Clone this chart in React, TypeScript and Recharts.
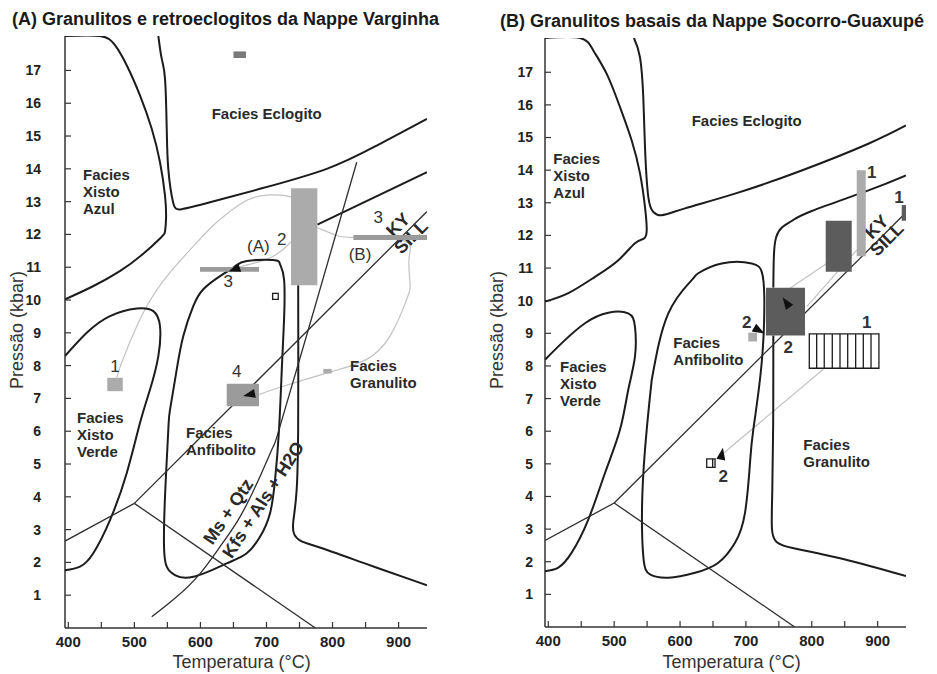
import React from 'react';
import {
  ComposedChart, Scatter, XAxis, YAxis, ReferenceArea, ReferenceDot, ReferenceLine,
} from 'recharts';

const FONT = '"Liberation Sans", Arial, Helvetica, sans-serif';
const INK = '#222';

const T_DOMAIN: [number, number] = [395, 943];
const P_DOMAIN: [number, number] = [0, 18.05];
const T_TICKS = [400, 450, 500, 550, 600, 650, 700, 750, 800, 850, 900];
const T_TOP_TICKS = [500, 600, 700, 800, 900];
const P_TICKS = [1, 2, 3, 4, 5, 6, 7, 8, 9, 10, 11, 12, 13, 14, 15, 16, 17];

const TITLE_A = '(A) Granulitos e retroeclogitos da Nappe Varginha';
const TITLE_B = '(B) Granulitos basais da Nappe Socorro-Guaxupé';
const X_TITLE = 'Temperatura (°C)';
const Y_TITLE = 'Pressão (kbar)';

// Al2SiO5 lines (same in both panels), [T °C, P kbar]
const andKy = [[395, 2.65], [500, 3.8]];
const kySil = [[500, 3.8], [943, 12.7]];
const andSil = [[500, 3.8], [774, 0]];

// ---------- panel A ----------
const aXistoAzul = [[395, 18.05], [448, 18.05], [470.7, 17.77], [488.4, 17.16], [508.5, 16.24], [526.3, 15.22], [538.8, 14.2], [546.4, 13.18], [548, 12.5], [546.5, 12.1], [540, 11.9], [513, 11.4], [478, 10.88], [437.4, 10.42], [395, 10.02]];
const aEclogito = [[536.3, 18.05], [541.4, 17.36], [546.4, 16.75], [549, 15.22], [551.4, 13.99], [558.5, 12.99], [571.7, 12.77], [614.5, 12.98], [690.2, 13.39], [791.2, 14.0], [866.9, 14.71], [943, 15.52]];
const aGranulitoLow = [[748, 10.45], [748.2, 8.2], [748.2, 6.05], [746.7, 4.01], [739, 3.15], [740.6, 2.83], [752, 2.62], [770.9, 2.53], [841.6, 2.02], [943, 1.3]];
const aGranulitoHigh = [[777, 12.3], [943, 13.9]];
const aXistoVerde = [[395, 8.29], [427.9, 9.0], [463.1, 9.51], [503.5, 9.74], [528.7, 9.66], [538.8, 9.2], [536.3, 8.29], [523.7, 7.27], [508.5, 6.25], [488.4, 4.72], [463.1, 3.29], [437.8, 2.28], [417.7, 1.87], [395, 1.76]];
const aAnfibolito = [[564.1, 7.88], [554, 6.66], [551.4, 6.05], [546.4, 4.01], [544.9, 2.48], [549, 1.87], [561.5, 1.61], [589.3, 1.56], [639.8, 1.97], [670.1, 2.28], [690.2, 2.78], [705.4, 3.5], [713, 4.52], [719, 6.05], [723.5, 8.03], [726.6, 9.41], [726.6, 10.63], [720.5, 11.09], [710.4, 11.22], [670.1, 11.19], [652.4, 11.03], [629.7, 10.73], [604.4, 10.33], [589.3, 9.82], [574.1, 8.9], [564.1, 7.88]];
const aMsQtz = [[526.3, 0.34], [564.1, 0.95], [599.4, 1.66], [629.7, 2.48], [659.9, 3.39], [690.2, 4.62], [710.4, 5.54], [719, 6.05], [763.4, 9.1], [836.6, 14.2]];
const aPathA = [[473.7, 7.64], [480.8, 8.09], [513.5, 9.61], [554, 10.84], [599.4, 11.86], [624.7, 12.37], [664.9, 12.98], [700.4, 13.2], [740.6, 13.13], [760.9, 12.77], [758.4, 12.37], [745.8, 11.96], [725.5, 11.55], [700.4, 11.24], [664.9, 11.04], [652.4, 10.94]];
const aPathB = [[776.1, 12.21], [800.7, 12.01], [831.5, 11.91], [906, 11.82], [916, 11.3], [917.3, 10.53], [912.3, 10.02], [887, 8.9], [851.7, 8.19], [801.2, 7.83], [725.5, 7.37], [688.7, 7.12]];

const aBoxes = [
  { t1: 650, t2: 669, p1: 17.38, p2: 17.58, tone: 'grey' },
  { t1: 459, t2: 482.4, p1: 7.22, p2: 7.63, tone: 'light' },
  { t1: 639.8, t2: 688.7, p1: 6.76, p2: 7.45, tone: 'mid' },
  { t1: 599.4, t2: 688.7, p1: 10.86, p2: 11.01, tone: 'mid' },
  { t1: 737.2, t2: 777, p1: 10.45, p2: 13.41, tone: 'light' },
  { t1: 831.5, t2: 943, p1: 11.83, p2: 11.98, tone: 'mid' },
  { t1: 786, t2: 798.7, p1: 7.76, p2: 7.9, tone: 'light' },
  { t1: 709.3, t2: 717.8, p1: 10.02, p2: 10.2, tone: 'open' },
];
const aFacies = [
  { t: 617.1, p: 15.68, lines: ['Facies Eclogito'] },
  { t: 422.3, p: 13.81, lines: ['Facies', 'Xisto', 'Azul'] },
  { t: 413.2, p: 6.4, lines: ['Facies', 'Xisto', 'Verde'] },
  { t: 578.2, p: 5.94, lines: ['Facies', 'Anfibolito'] },
  { t: 826.5, p: 8.0, lines: ['Facies', 'Granulito'] },
];
const aNumbers = [
  { t: 470.7, p: 7.98, text: '1' },
  { t: 654.9, p: 7.83, text: '4' },
  { t: 642.2, p: 10.58, text: '3' },
  { t: 723.1, p: 11.86, text: '2' },
  { t: 687.7, p: 11.65, text: '(A)' },
  { t: 869.3, p: 12.52, text: '3' },
  { t: 841.6, p: 11.4, text: '(B)' },
];
const aTilted = [
  { t: 642.2, p: 3.55, text: 'Ms + Qtz', angle: -56 },
  { t: 695.2, p: 3.91, text: 'Kfs + Als + H2O', angle: -57 },
  { t: 899.2, p: 12.29, text: 'KY', angle: -45 },
  { t: 918.8, p: 11.92, text: 'SILL', angle: -45 },
];
const aArrows = [
  { t: 652.4, p: 10.94, dir: 160 },
  { t: 675.1, p: 7.12, dir: 168 },
];

// ---------- panel B ----------
const bXistoAzul = [[395, 18.05], [448.1, 18.05], [468.3, 17.67], [488.7, 16.95], [508.9, 15.93], [526.6, 14.91], [539.2, 13.9], [546.8, 12.87], [549.4, 12.16], [545, 11.9], [531.6, 11.76], [506.3, 11.24], [470.9, 10.73], [430.4, 10.23], [395, 9.97]];
const bEclogito = [[530, 18.05], [539.2, 17.46], [544.2, 16.24], [546.8, 14.71], [551.8, 13.18], [559.4, 12.72], [572.2, 12.62], [607.5, 12.83], [683.4, 13.28], [784.7, 13.99], [885.8, 14.81], [943, 15.37]];
const bGranulitoLow = [[741.6, 8.93], [741.6, 6.04], [740.1, 4.01], [738.1, 2.89], [744.1, 2.58], [764.3, 2.43], [835.2, 2.17], [943, 1.56]];
const bGranulitoHigh = [[741.6, 10.4], [742.5, 11.4], [746, 11.95], [755, 12.25], [770, 12.45], [800, 12.75], [886, 13.38], [943, 13.84]];
const bXistoVerde = [[395, 8.19], [420.4, 8.7], [455.7, 9.31], [491.1, 9.63], [521.4, 9.61], [531.6, 9.2], [531.6, 8.29], [521.4, 7.27], [508.9, 6.05], [486.1, 4.72], [460.7, 3.29], [435.5, 2.28], [415.2, 1.82], [395, 1.71]];
const bAnfibolito = [[557, 7.57], [549.4, 6.05], [542.7, 4.01], [544.2, 2.17], [554.4, 1.61], [582.2, 1.51], [622.7, 1.66], [658.1, 1.97], [683.4, 2.58], [698.6, 3.5], [706.2, 5.03], [711.2, 6.05], [723.9, 8.09], [727.9, 10.12], [723.9, 10.89], [708.8, 11.14], [663.2, 11.14], [627.7, 10.84], [617.7, 10.63], [582.2, 9.61], [557, 7.57]];
const bPathLow = [[663.2, 5.28], [817.5, 7.9]];
const bPathMid = [[766.9, 10.38], [822.6, 11.14]];
const bPathHigh = [[792.3, 9.82], [868.2, 11.55]];

const bBoxes = [
  { t1: 730.5, t2: 789.7, p1: 8.93, p2: 10.4, tone: 'dark' },
  { t1: 821.1, t2: 860.6, p1: 10.89, p2: 12.45, tone: 'dark' },
  { t1: 868.2, t2: 881.9, p1: 11.36, p2: 14.0, tone: 'light' },
  { t1: 936.5, t2: 943, p1: 12.45, p2: 12.93, tone: 'dark' },
  { t1: 703.6, t2: 716.8, p1: 8.75, p2: 9.02, tone: 'light' },
  { t1: 640.5, t2: 653.1, p1: 4.89, p2: 5.15, tone: 'open' },
  { t1: 796.2, t2: 901.9, p1: 7.93, p2: 8.98, tone: 'open' },
];
const bStripes = [
  { t: 807.4, p1: 7.93, p2: 8.98 }, { t: 818.9, p1: 7.93, p2: 8.98 },
  { t: 831.1, p1: 7.93, p2: 8.98 }, { t: 842.8, p1: 7.93, p2: 8.98 },
  { t: 854.5, p1: 7.93, p2: 8.98 }, { t: 866.6, p1: 7.93, p2: 8.98 },
  { t: 878.2, p1: 7.93, p2: 8.98 }, { t: 889.9, p1: 7.93, p2: 8.98 },
  { t: 649.5, p1: 4.89, p2: 5.15 },
];
const bFacies = [
  { t: 617.7, p: 15.5, lines: ['Facies Eclogito'] },
  { t: 407.6, p: 14.35, lines: ['Facies', 'Xisto', 'Azul'] },
  { t: 417.8, p: 7.98, lines: ['Facies', 'Xisto', 'Verde'] },
  { t: 589.8, p: 8.7, lines: ['Facies', 'Anfibolito'] },
  { t: 787.1, p: 5.59, lines: ['Facies', 'Granulito'] },
];
const bNumbers = [
  { t: 891, p: 13.94, text: '1' },
  { t: 932.4, p: 13.18, text: '1' },
  { t: 701.2, p: 9.36, text: '2' },
  { t: 764.3, p: 8.59, text: '2' },
  { t: 883.3, p: 9.36, text: '1' },
  { t: 665.7, p: 4.62, text: '2' },
];
const bTilted = [
  { t: 898.5, p: 12.26, text: 'KY', angle: -45 },
  { t: 913.7, p: 11.88, text: 'SILL', angle: -45 },
];
const bArrows = [
  { t: 761.9, p: 9.92, dir: -125 },
  { t: 663.2, p: 5.28, dir: -80 },
  { t: 718.8, p: 9.1, dir: 30 },
];

const TONES: Record<string, string> = {
  dark: '#5c5c5c', grey: '#7a7a7a', mid: '#9b9b9b', light: '#ababab', open: '#ffffff',
};
const LINE_STYLE: Record<string, { stroke: string; strokeWidth: number }> = {
  facies: { stroke: '#1c1c1c', strokeWidth: 2 },
  reaction: { stroke: '#2e2e2e', strokeWidth: 1.3 },
  path: { stroke: '#c2c2c2', strokeWidth: 1.2 },
};

type Curve = { pts: number[][]; kind: string; type: string };
const aCurves: Curve[] = [
  { pts: aPathA, kind: 'path', type: 'natural' },
  { pts: aPathB, kind: 'path', type: 'natural' },
  { pts: aXistoAzul, kind: 'facies', type: 'natural' },
  { pts: aEclogito, kind: 'facies', type: 'natural' },
  { pts: aGranulitoLow, kind: 'facies', type: 'basis' },
  { pts: aGranulitoHigh, kind: 'facies', type: 'linear' },
  { pts: aXistoVerde, kind: 'facies', type: 'natural' },
  { pts: aAnfibolito, kind: 'facies', type: 'natural' },
  { pts: andKy, kind: 'reaction', type: 'linear' },
  { pts: kySil, kind: 'reaction', type: 'linear' },
  { pts: andSil, kind: 'reaction', type: 'linear' },
  { pts: aMsQtz, kind: 'reaction', type: 'natural' },
];
const bCurves: Curve[] = [
  { pts: bPathLow, kind: 'path', type: 'linear' },
  { pts: bPathMid, kind: 'path', type: 'linear' },
  { pts: bPathHigh, kind: 'path', type: 'linear' },
  { pts: bXistoAzul, kind: 'facies', type: 'natural' },
  { pts: bEclogito, kind: 'facies', type: 'natural' },
  { pts: bGranulitoLow, kind: 'facies', type: 'basis' },
  { pts: bGranulitoHigh, kind: 'facies', type: 'natural' },
  { pts: bXistoVerde, kind: 'facies', type: 'natural' },
  { pts: bAnfibolito, kind: 'facies', type: 'natural' },
  { pts: andKy, kind: 'reaction', type: 'linear' },
  { pts: kySil, kind: 'reaction', type: 'linear' },
  { pts: andSil, kind: 'reaction', type: 'linear' },
];

const toXY = (pts: number[][]) => pts.map(([x, y]) => ({ x, y }));
const noDot = () => <g />;

const faciesShape = (lines: string[]) => (props: any) => (
  <text x={props.cx} y={props.cy} fontFamily={FONT} fontSize={15} fontWeight={700} fill="#2a2a2a">
    {lines.map((s, i) => (
      <tspan key={i} x={props.cx} dy={i === 0 ? 5 : 17}>{s}</tspan>
    ))}
  </text>
);
const numberShape = (text: string, weight: number) => (props: any) => (
  <text x={props.cx} y={props.cy} dy={6} textAnchor="middle" fontFamily={FONT} fontSize={17}
    fontWeight={weight} fill="#333">{text}</text>
);
const tiltShape = (text: string, angle: number) => (props: any) => (
  <text x={props.cx} y={props.cy} dy={6} textAnchor="middle" fontFamily={FONT} fontSize={18}
    fontWeight={700} fill="#2a2a2a" transform={`rotate(${angle} ${props.cx} ${props.cy})`}>{text}</text>
);
const arrowShape = (dir: number) => (props: any) => (
  <polygon points="7,0 -5,-4.5 -5,4.5" fill="#111"
    transform={`translate(${props.cx} ${props.cy}) rotate(${dir})`} />
);

const AXIS_LINE = { stroke: '#333', strokeWidth: 1.5 };
const TICK_LINE = { stroke: '#333', strokeWidth: 1.2 };
const TICK_FONT = { fontSize: 14, fontWeight: 700, fill: INK, fontFamily: FONT };

interface PanelProps {
  width: number;
  top: number;
  right: number;
  yAxisWidth: number;
  xAxisHeight: number;
  yTickMargin: number;
  curves: Curve[];
  boxes: { t1: number; t2: number; p1: number; p2: number; tone: string }[];
  stripes: { t: number; p1: number; p2: number }[];
  facies: { t: number; p: number; lines: string[] }[];
  numbers: { t: number; p: number; text: string }[];
  numberWeight: number;
  tilted: { t: number; p: number; text: string; angle: number }[];
  arrows: { t: number; p: number; dir: number }[];
}

function Panel(p: PanelProps) {
  return (
    <ComposedChart width={p.width} height={674} margin={{ top: p.top, right: p.right, bottom: 0, left: 0 }}>
      <XAxis type="number" dataKey="x" domain={T_DOMAIN} allowDataOverflow ticks={T_TICKS} interval={0}
        tickFormatter={(v: number) => (v % 100 === 0 ? String(v) : '')}
        tickSize={-6} tickMargin={14} height={p.xAxisHeight}
        axisLine={AXIS_LINE} tickLine={TICK_LINE} tick={{ ...TICK_FONT, fontSize: 15 }} />
      <XAxis xAxisId="top" orientation="top" type="number" dataKey="x" domain={T_DOMAIN} allowDataOverflow
        ticks={T_TOP_TICKS} interval={0} tick={false} tickSize={-6} height={0}
        axisLine={AXIS_LINE} tickLine={TICK_LINE} />
      <YAxis type="number" dataKey="y" domain={P_DOMAIN} allowDataOverflow ticks={P_TICKS} interval={0}
        tickSize={-6} tickMargin={p.yTickMargin} width={p.yAxisWidth}
        axisLine={AXIS_LINE} tickLine={TICK_LINE} tick={TICK_FONT} />
      <YAxis yAxisId="right" orientation="right" type="number" dataKey="y" domain={P_DOMAIN} allowDataOverflow
        ticks={P_TICKS} interval={0} tick={false} tickSize={-6} width={0}
        axisLine={AXIS_LINE} tickLine={TICK_LINE} />

      {p.curves.map((c, i) => (
        <Scatter key={`c${i}`} data={toXY(c.pts)} line={LINE_STYLE[c.kind]} lineJointType={c.type as any}
          shape={noDot} isAnimationActive={false} />
      ))}

      {p.tilted.map((l, i) => (
        <ReferenceDot key={`tl${i}`} x={l.t} y={l.p} r={1} ifOverflow="visible" zIndex={650}
          shape={tiltShape(l.text, l.angle)} />
      ))}

      {p.boxes.map((b, i) => (
        <ReferenceArea key={`b${i}`} x1={b.t1} x2={b.t2} y1={b.p1} y2={b.p2} ifOverflow="hidden" zIndex={700}
          fill={TONES[b.tone]} fillOpacity={1}
          stroke={b.tone === 'open' ? '#1c1c1c' : 'none'} strokeWidth={b.tone === 'open' ? 1.3 : 0} />
      ))}

      {p.stripes.map((s, i) => (
        <ReferenceLine key={`s${i}`} segment={[{ x: s.t, y: s.p1 }, { x: s.t, y: s.p2 }]} ifOverflow="visible"
          zIndex={750} stroke="#1c1c1c" strokeWidth={1.3} />
      ))}

      {p.facies.map((l, i) => (
        <ReferenceDot key={`f${i}`} x={l.t} y={l.p} r={1} ifOverflow="visible" zIndex={800}
          shape={faciesShape(l.lines)} />
      ))}
      {p.numbers.map((l, i) => (
        <ReferenceDot key={`n${i}`} x={l.t} y={l.p} r={1} ifOverflow="visible" zIndex={800}
          shape={numberShape(l.text, p.numberWeight)} />
      ))}
      {p.arrows.map((a, i) => (
        <ReferenceDot key={`a${i}`} x={a.t} y={a.p} r={1} ifOverflow="visible" zIndex={900}
          shape={arrowShape(a.dir)} />
      ))}
    </ComposedChart>
  );
}

const abs = (extra: React.CSSProperties): React.CSSProperties => ({ position: 'absolute', whiteSpace: 'nowrap', ...extra });
const titleStyle = { fontSize: 18, fontWeight: 700, color: '#1a1a1a', lineHeight: '20px' };
const axisTitleStyle = { fontSize: 18, color: '#333', lineHeight: '20px' };

export default function App() {
  return (
    <div style={{ position: 'absolute', left: 0, top: 0, width: 937, height: 674, background: '#fff', fontFamily: FONT, overflow: 'hidden' }}>
      <div style={abs({ left: 0, top: 0 })}>
        <Panel width={470} top={36} right={43} yAxisWidth={65} xAxisHeight={46} yTickMargin={30}
          curves={aCurves} boxes={aBoxes} stripes={[]} facies={aFacies} numbers={aNumbers} numberWeight={400}
          tilted={aTilted} arrows={aArrows} />
      </div>
      <div style={abs({ left: 470, top: 0 })}>
        <Panel width={467} top={38} right={31} yAxisWidth={75} xAxisHeight={47} yTickMargin={18}
          curves={bCurves} boxes={bBoxes} stripes={bStripes} facies={bFacies} numbers={bNumbers} numberWeight={700}
          tilted={bTilted} arrows={bArrows} />
      </div>

      <div style={abs({ left: 12, top: 9, ...titleStyle })}>{TITLE_A}</div>
      <div style={abs({ left: 500, top: 11, ...titleStyle })}>{TITLE_B}</div>

      <div style={abs({ left: 241.7, top: 652, transform: 'translateX(-50%)', ...axisTitleStyle })}>{X_TITLE}</div>
      <div style={abs({ left: 731.7, top: 652, transform: 'translateX(-50%)', ...axisTitleStyle })}>{X_TITLE}</div>

      <div style={abs({ left: 17 - 100, top: 330 - 10, width: 200, textAlign: 'center', transform: 'rotate(-90deg)', ...axisTitleStyle })}>{Y_TITLE}</div>
      <div style={abs({ left: 497 - 100, top: 330 - 10, width: 200, textAlign: 'center', transform: 'rotate(-90deg)', ...axisTitleStyle })}>{Y_TITLE}</div>
    </div>
  );
}
